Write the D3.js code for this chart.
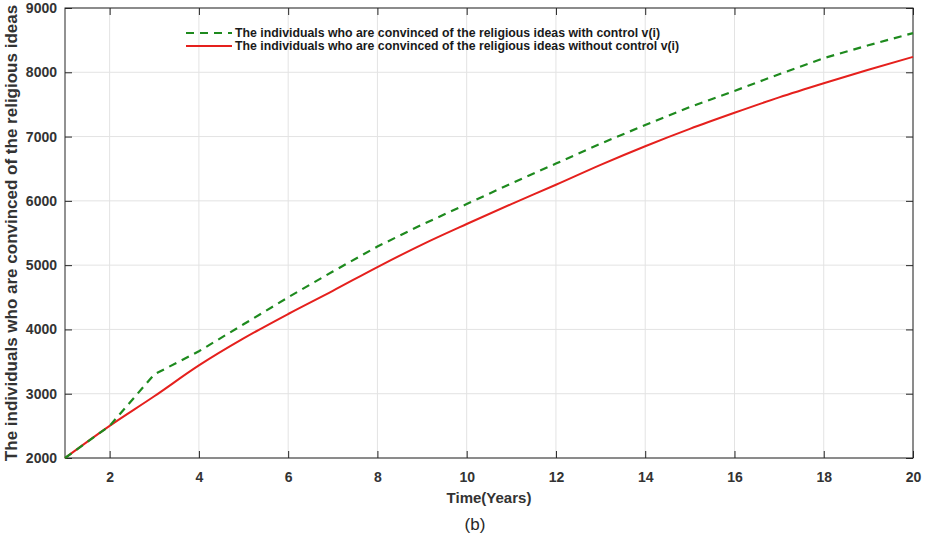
<!DOCTYPE html>
<html>
<head>
<meta charset="utf-8">
<script src="https://cdn.jsdelivr.net/npm/d3@7"></script>
<style>
body { margin: 0; background: #fff; }
svg { display: block; font-family: "Liberation Sans", Arial, sans-serif; }
</style>
</head>
<body>
<svg id="chart" width="925" height="537"></svg>
<script>

// data
var years = [1, 2, 3, 4, 5, 6, 7, 8, 9, 10, 11, 12, 13, 14, 15, 16, 17, 18, 19, 20];
var withControl = [2000, 2500, 3300, 3660, 4080, 4500, 4900, 5290, 5630, 5950,
		6270, 6580, 6890, 7180, 7460, 7710, 7970, 8220, 8420, 8610];
var withoutControl = [2000, 2500, 2960, 3440, 3860, 4240, 4600, 4970, 5320, 5640,
		5950, 6250, 6560, 6850, 7120, 7370, 7610, 7830, 8040, 8240];
var xTicks = [2, 4, 6, 8, 10, 12, 14, 16, 18, 20];
var yTicks = [2000, 3000, 4000, 5000, 6000, 7000, 8000, 9000];
var legendLabels = [
	"The individuals who are convinced of the religious ideas with control v(i)",
	"The individuals who are convinced of the religious ideas without control v(i)"
];

var margin = { left: 65, top: 8, right: 12, bottom: 79 };
var width = 925 - margin.left - margin.right;
var height = 537 - margin.top - margin.bottom;

var svg = d3.select("#chart");
var g = svg.append("g").attr("transform",
		"translate(" + margin.left + "," + margin.top + ")");

var x = d3.scaleLinear().domain([1, 20]).range([0, width]);
var y = d3.scaleLinear().domain([2000, 9000]).range([height, 0]);

// grid
g.append("g").selectAll("line").data(xTicks).enter().append("line") //
.attr("x1", function(d) { return x(d); }) //
.attr("x2", function(d) { return x(d); }) //
.attr("y1", 0).attr("y2", height) //
.attr("stroke", "#e3e3e3").attr("stroke-width", 1);

g.append("g").selectAll("line").data(yTicks).enter().append("line") //
.attr("y1", function(d) { return y(d); }) //
.attr("y2", function(d) { return y(d); }) //
.attr("x1", 0).attr("x2", width) //
.attr("stroke", "#e3e3e3").attr("stroke-width", 1);

// axes (ticks pointing inward, mirrored on top / right)
function styleAxis(sel) {
	sel.select(".domain").remove();
	sel.selectAll(".tick line").attr("stroke", "#262626");
	sel.selectAll(".tick text").attr("fill", "#333") //
	.style("font-size", "14px").style("font-weight", "bold");
}

g.append("g").attr("transform", "translate(0," + height + ")") //
.call(d3.axisBottom(x).tickValues(xTicks).tickSizeInner(-7).tickPadding(14)) //
.call(styleAxis);
g.append("g") //
.call(d3.axisTop(x).tickValues(xTicks).tickSizeInner(-7).tickFormat("")) //
.call(styleAxis);
g.append("g") //
.call(d3.axisLeft(y).tickValues(yTicks).tickFormat(d3.format("d")) //
.tickSizeInner(-7).tickPadding(8)) //
.call(styleAxis);
g.append("g").attr("transform", "translate(" + width + ",0)") //
.call(d3.axisRight(y).tickValues(yTicks).tickSizeInner(-7).tickFormat("")) //
.call(styleAxis);

g.append("rect").attr("width", width).attr("height", height) //
.attr("fill", "none").attr("stroke", "#262626").attr("stroke-width", 1);

// lines
var line = d3.line() //
.x(function(d, i) { return x(years[i]); }) //
.y(function(d) { return y(d); });

g.append("path").datum(withoutControl) //
.attr("d", line.curve(d3.curveMonotoneX)).attr("fill", "none") //
.attr("stroke", "#e5201d").attr("stroke-width", 2);

g.append("path").datum(withControl) //
.attr("d", line.curve(d3.curveLinear)).attr("fill", "none") //
.attr("stroke", "#1e8a1e").attr("stroke-width", 2.2) //
.attr("stroke-dasharray", "8,6");

// legend (no box)
var legend = svg.append("g").attr("transform", "translate(186,33)");
var legendStyles = [
	{ color: "#1e8a1e", dash: "8,6" },
	{ color: "#e5201d", dash: null }
];
legendLabels.forEach(function(label, i) {
	var row = legend.append("g").attr("transform", "translate(0," + (i * 13) + ")");
	row.append("line").attr("x1", 0).attr("x2", 46).attr("y1", 0).attr("y2", 0) //
	.attr("stroke", legendStyles[i].color).attr("stroke-width", 2) //
	.attr("stroke-dasharray", legendStyles[i].dash);
	row.append("text").attr("x", 49).attr("y", 4) //
	.style("font-size", "12.3px").style("font-weight", "bold") //
	.attr("fill", "#1a1a1a").text(label);
});

// axis titles
svg.append("text").attr("x", margin.left + width / 2).attr("y", 503) //
.attr("text-anchor", "middle").style("font-size", "15px") //
.style("font-weight", "bold").attr("fill", "#333").text("Time(Years)");

svg.append("text").attr("x", 475).attr("y", 530) //
.attr("text-anchor", "middle").style("font-size", "17px") //
.attr("fill", "#262626").text("(b)");

svg.append("text") //
.attr("transform", "translate(17," + (margin.top + height / 2) + ") rotate(-90)") //
.attr("text-anchor", "middle").style("font-size", "17px") //
.style("font-weight", "bold").attr("fill", "#333") //
.text("The individuals who are convinced of the religious ideas");

</script>
</body>
</html>
